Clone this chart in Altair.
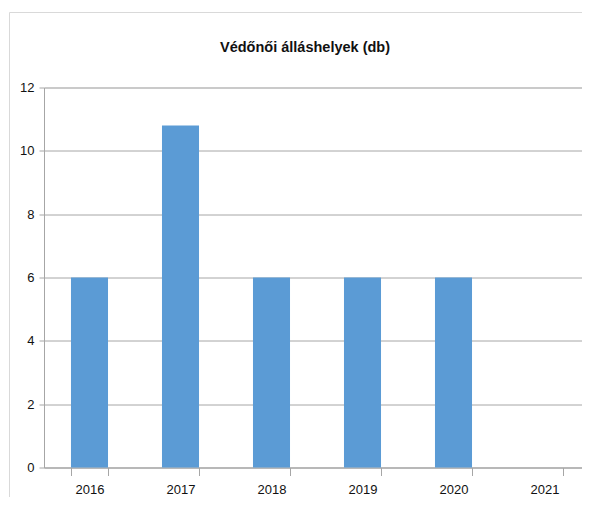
import altair as alt
import pandas as pd

years = ["2016", "2017", "2018", "2019", "2020", "2021"]
values = [6, 10.8, 6, 6, 6, 0]
y_ticks = [0, 2, 4, 6, 8, 10, 12]
title_text = "Védőnői álláshelyek (db)"

df = pd.DataFrame({"year": years, "value": values})
FONT = "Liberation Sans, Arial, sans-serif"
GRID = "#a6a6a6"

bars = alt.Chart(df).mark_bar(color="#5B9BD5").encode(
    x=alt.X(
        "year:N",
        sort=years,
        title=None,
        scale=alt.Scale(paddingInner=0.593, paddingOuter=0.2965, range=[0, 546]),
        axis=alt.Axis(
            tickBand="extent",
            labelAngle=0,
            tickSize=8,
            tickColor=GRID,
            domainColor=GRID,
            labelPadding=8,
            labelFontSize=13,
            labelFont=FONT,
            labelColor="#111111",
            grid=False,
        ),
    ),
    y=alt.Y(
        "value:Q",
        title=None,
        scale=alt.Scale(domain=[0, 12], nice=False),
        axis=alt.Axis(
            values=y_ticks,
            tickSize=5,
            tickColor=GRID,
            domainColor=GRID,
            gridColor=GRID,
            labelPadding=5,
            labelFontSize=13,
            labelFont=FONT,
            labelColor="#111111",
        ),
    ),
)

frame_df = pd.DataFrame({"a": [0]})
frame_left = alt.Chart(frame_df).mark_rule(color="#d9d9d9", strokeWidth=1).encode(
    x=alt.value(-34.5), y=alt.value(-75), y2=alt.value(430)
)
frame_top = alt.Chart(frame_df).mark_rule(color="#d9d9d9", strokeWidth=1).encode(
    x=alt.value(-34.5), x2=alt.value(600), y=alt.value(-75)
)

chart = alt.layer(frame_left, frame_top, bars).properties(
    width=538,
    height=380,
    autosize=alt.AutoSizeParams(type="none"),
    padding={"left": 36, "top": 79.5, "right": 0, "bottom": 29},
    title=alt.TitleParams(
        title_text,
        font=FONT,
        fontSize=14.5,
        fontWeight="bold",
        color="#111111",
        anchor="middle",
        dx=-8,
        offset=0,
        dy=43,
    ),
).configure_view(stroke=None).configure(background="white")

chart.save("out.html", embed_options={"renderer": "svg", "actions": False})
